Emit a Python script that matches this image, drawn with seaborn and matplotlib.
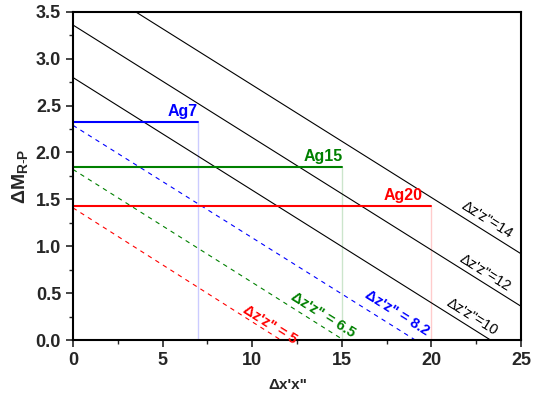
import matplotlib
matplotlib.use('Agg')
import matplotlib.pyplot as plt
import seaborn as sns
from matplotlib.ticker import MultipleLocator, FormatStrFormatter

# black guide lines, dz'z'' = 10, 12, 14 (two end points each)
black_z = [10, 12, 14]
black_x0 = [0, 0, 0]
black_y0 = [2.80, 3.36, 3.92]
black_x1 = [23.3, 25, 25]
black_y1 = [0.0, 0.36, 0.92]

# dashed sample lines
dash_z = ['5', '6.5', '8.2']
dash_y0 = [1.41, 1.82, 2.29]
dash_x1 = [11.6, 15.1, 19.1]
dash_colors = ['#ff0000', '#008000', '#0000ff']

# Ag samples: horizontal level and drop position
ag_names = ['Ag7', 'Ag15', 'Ag20']
ag_x = [7, 15, 20]
ag_level = [2.33, 1.85, 1.43]
ag_colors = ['#0000ff', '#008000', '#ff0000']
ag_vstyle = [(0, (1, 1)), (0, (3, 1.5, 1, 1.5)), (0, (1, 1))]

sns.set_style('ticks')
plt.rcParams['font.family'] = ['Liberation Sans', 'DejaVu Sans']
plt.rcParams['mathtext.fontset'] = 'custom'
plt.rcParams['mathtext.rm'] = 'Liberation Sans'
plt.rcParams['mathtext.bf'] = 'Liberation Sans:bold'
plt.rcParams['mathtext.it'] = 'Liberation Sans:italic'

dpi = 100
fig, ax = plt.subplots(figsize=(536 / dpi, 394 / dpi), dpi=dpi)
fig.subplots_adjust(left=0.136, right=0.972, bottom=0.137, top=0.970)

for x0, y0, x1, y1 in zip(black_x0, black_y0, black_x1, black_y1):
    sns.lineplot(x=[x0, x1], y=[y0, y1], color='black', linewidth=0.8, sort=False, ax=ax)

for y0, x1, c in zip(dash_y0, dash_x1, dash_colors):
    sns.lineplot(x=[0, x1], y=[y0, 0], color=c, linewidth=0.8, linestyle=(0, (4, 4)), sort=False, ax=ax)

for x, lv, c, ls in zip(ag_x, ag_level, ag_colors, ag_vstyle):
    sns.lineplot(x=[0, x], y=[lv, lv], color=c, linewidth=1.5, sort=False, ax=ax)
    sns.lineplot(x=[x, x], y=[lv, 0], color=c, linewidth=1.0, linestyle=ls, sort=False, ax=ax)

# sample labels
ag_lab_x = [6.15, 13.95, 18.4]
for name, lx, lv, c in zip(ag_names, ag_lab_x, ag_level, ag_colors):
    ax.text(lx, lv + 0.03, name, color=c, fontsize=11.5, fontweight='bold', ha='center', va='bottom')

black_lab_pos = [(22.3, 0.25), (23.0, 0.72), (23.1, 1.28)]
for z, (lx, ly) in zip(black_z, black_lab_pos):
    ax.text(lx, ly, "\u0394z'z\"=%d" % z, color='black', fontsize=10.5, rotation=-32,
            ha='center', va='center', rotation_mode='anchor')

dash_lab_pos = [(11.0, 0.16), (13.95, 0.27), (18.1, 0.29)]
for z, (lx, ly), c in zip(dash_z, dash_lab_pos, dash_colors):
    ax.text(lx, ly, "\u0394z'z\" = " + z, color=c, fontsize=10.5, fontweight='bold', rotation=-32,
            ha='center', va='center', rotation_mode='anchor')

ax.set_xlim(0, 25)
ax.set_ylim(0, 3.5)
ax.xaxis.set_major_locator(MultipleLocator(5))
ax.xaxis.set_minor_locator(MultipleLocator(2.5))
ax.yaxis.set_major_locator(MultipleLocator(0.5))
ax.yaxis.set_minor_locator(MultipleLocator(0.25))
ax.yaxis.set_major_formatter(FormatStrFormatter('%.1f'))

ax.tick_params(which='major', direction='out', length=5, width=1.2, labelsize=13)
ax.tick_params(which='minor', direction='out', length=3, width=1.0)
for lab in ax.get_xticklabels() + ax.get_yticklabels():
    lab.set_fontweight('bold')

for sp in ax.spines.values():
    sp.set_visible(True)
    sp.set_linewidth(1.5)
    sp.set_color('black')

ax.set_xlabel("\u0394x'x\"", fontsize=11, fontweight='bold')
ax.xaxis.set_label_coords(0.48, -0.115)
ax.set_ylabel(r'$\mathbf{\Delta M}_{\mathbf{R\text{-}P}}$', fontsize=14)

fig.savefig('out.png', dpi=dpi)
